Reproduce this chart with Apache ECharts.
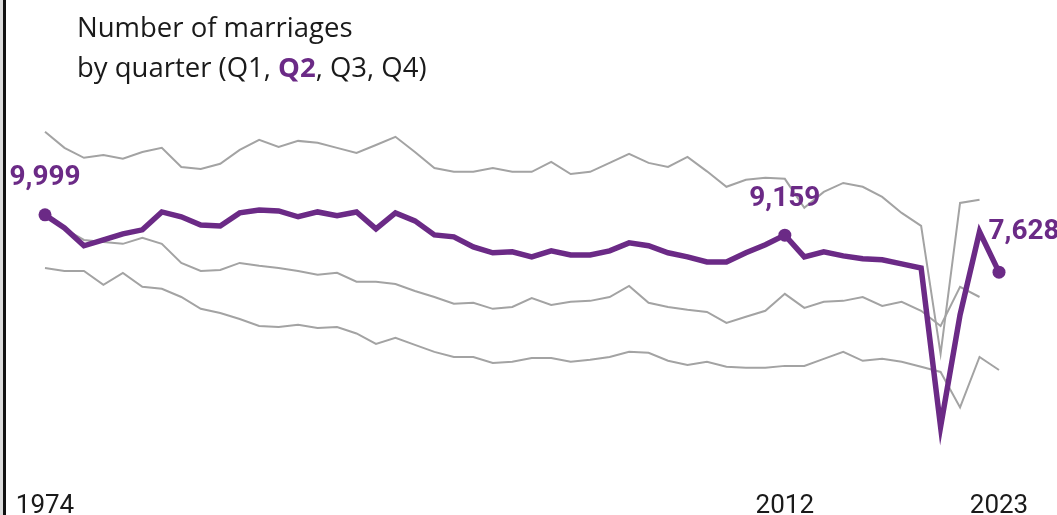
<!DOCTYPE html>
<html>
<head>
<meta charset="utf-8">
<script src="https://cdn.jsdelivr.net/npm/echarts@6/dist/echarts.min.js"></script>
<style>
    html,body{margin:0;padding:0;background:#fff;}
    #chart{width:1057px;height:515px;}
</style>
</head>
<body>
<div id="chart"></div>
<script>
var years = ['1974','1975','1976','1977','1978','1979','1980','1981','1982','1983',
    '1984','1985','1986','1987','1988','1989','1990','1991','1992','1993',
    '1994','1995','1996','1997','1998','1999','2000','2001','2002','2003',
    '2004','2005','2006','2007','2008','2009','2010','2011','2012','2013',
    '2014','2015','2016','2017','2018','2019','2020','2021','2022','2023'];

var tickYears = ['1974','2012','2023'];
var calloutYears = ['1974','2012','2023'];

var q1 = [7800,7680,7680,7100,7600,7020,6940,6600,6110,5940,
    5690,5400,5360,5450,5320,5360,5090,4660,4910,4620,
    4330,4120,4120,3870,3920,4080,4080,3920,4000,4120,
    4330,4290,3960,3790,3920,3710,3670,3670,3750,3750,
    4040,4330,3960,4040,3920,3710,3500,2030,4120,3580];

var q2 = [9999,9460,8720,8960,9210,9380,10120,9920,9580,9540,
    10080,10200,10160,9920,10120,9960,10120,9420,10080,9750,
    9170,9090,8670,8430,8470,8260,8510,8340,8340,8510,
    8840,8720,8430,8260,8050,8050,8430,8760,9159,8260,
    8470,8300,8180,8140,7970,7800,1230,5860,9300,7628];

var q3 = [13440,12770,12360,12480,12320,12600,12770,11980,11900,12110,
    12690,13100,12810,13060,12980,12770,12560,12890,13230,12600,
    11940,11780,11780,11940,11780,11780,12190,11690,11780,12150,
    12520,12150,11980,12400,11800,11160,11450,11530,11490,10290,
    10950,11320,11160,10740,10080,9540,4250,10490,10620];

var q4 = [9920,9420,8960,8880,8800,9050,8800,8010,7680,7720,
    8010,7890,7800,7680,7520,7600,7230,7230,7140,6850,
    6600,6320,6360,6110,6190,6560,6270,6400,6440,6600,
    7060,6360,6190,6070,5980,5530,5780,6030,6730,6150,
    6400,6440,6600,6230,6400,6030,5400,7020,6600];

var purple = '#6b2a86';
var grey = '#a3a3a3';

function withCommas(n){
    return String(n).replace(/\B(?=(\d{3})+(?!\d))/g, ',');
}

function each(arr, fn){
    for(var i = 0; i < arr.length; i++){ fn(i, arr[i]); }
}

function greyLine(name, values){
    return {
        name: name,
        type: 'line',
        data: values,
        symbol: 'none',
        silent: true,
        lineStyle: {color: grey, width: 2, join: 'miter'},
        z: 2
    };
}

//dots + numbers on the Q2 line
function buildCallouts(){
    var points = [];
    each(calloutYears, function(i, y){
        var idx = years.indexOf(y);
        var item = {value: [idx, q2[idx]]};
        if(i == calloutYears.length - 1){
            item.label = {offset: [25, -4]};
        }
        points.push(item);
    });
    return points;
}

var chart = echarts.init(document.getElementById('chart'));
var option = {
    animation: false,
    backgroundColor: '#fff',
    title: {
        left: 77,
        top: 9,
        padding: 0,
        text: 'Number of marriages\nby quarter (Q1, {b|Q2}, Q3, Q4)',
        textStyle: {
            fontFamily: 'Open Sans',
            fontSize: 27.5,
            fontWeight: 'normal',
            color: '#1a1a1a',
            lineHeight: 40,
            rich: {
                b: {fontFamily: 'Open Sans', fontSize: 27.5, fontWeight: 'bold', color: purple, lineHeight: 40}
            }
        }
    },
    graphic: [
        {type: 'rect', left: 0, top: 0, shape: {width: 3, height: 515}, style: {fill: '#dcdcdc'}},
        {type: 'rect', left: 3, top: 0, shape: {width: 3, height: 515}, style: {fill: '#111'}}
    ],
    grid: {left: 45, right: 58, top: 94, bottom: 58.5, outerBoundsMode: 'none'},
    xAxis: {
        type: 'category',
        data: years,
        boundaryGap: false,
        axisLine: {show: false},
        axisTick: {show: false},
        axisLabel: {
            interval: function(index, value){ return tickYears.indexOf(value) >= 0; },
            margin: 37,
            fontFamily: 'Roboto',
            fontSize: 26,
            color: '#1a1a1a'
        }
    },
    yAxis: {
        type: 'value',
        min: 0,
        max: 15000,
        show: false
    },
    series: [
        greyLine('Q1', q1),
        greyLine('Q3', q3),
        greyLine('Q4', q4),
        {
            name: 'Q2',
            type: 'line',
            data: q2,
            symbol: 'none',
            lineStyle: {color: purple, width: 5.5, join: 'miter'},
            z: 5
        },
        {
            name: 'callouts',
            type: 'scatter',
            data: buildCallouts(),
            symbol: 'circle',
            symbolSize: 13,
            itemStyle: {color: purple, opacity: 1},
            z: 6,
            label: {
                show: true,
                position: 'top',
                distance: 16,
                formatter: function(p){ return withCommas(p.value[1]); },
                fontFamily: 'Roboto',
                fontWeight: 'bold',
                fontSize: 28,
                color: purple
            }
        }
    ]
};
chart.setOption(option);
</script>
</body>
</html>
